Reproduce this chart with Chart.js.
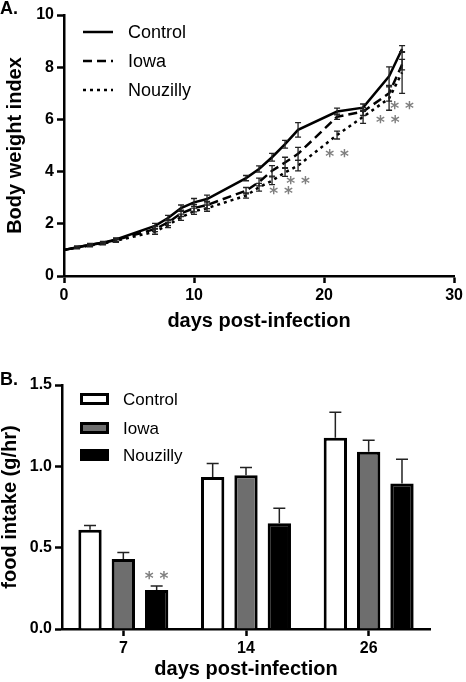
<!DOCTYPE html>
<html>
<head>
<meta charset="utf-8">
<script src="https://cdn.jsdelivr.net/npm/chart.js@4/dist/chart.umd.min.js"></script>
<style>
html,body{margin:0;padding:0;background:#fff;width:466px;height:682px;overflow:hidden;}
#ca{position:absolute;left:0;top:0;}
#cb{position:absolute;left:0;top:340px;}
</style>
</head>
<body>
<canvas id="ca" width="466" height="340"></canvas>
<canvas id="cb" width="466" height="342"></canvas>
<script>
// ---------- Panel A data: body weight index ----------
const daysA = [0, 1, 2, 3, 4, 7, 8, 9, 10, 11, 14, 15, 16, 17, 18, 21, 23, 25, 26];
const controlWeight    = [1.00, 1.10, 1.20, 1.28, 1.40, 1.92, 2.22, 2.60, 2.82, 2.95, 3.75, 4.10, 4.55, 5.05, 5.60, 6.30, 6.45, 7.65, 8.70];
const controlWeightErr = [0.00, 0.04, 0.05, 0.05, 0.06, 0.10, 0.10, 0.12, 0.15, 0.15, 0.10, 0.12, 0.15, 0.15, 0.28, 0.13, 0.14, 0.36, 0.13];
const iowaWeight       = [1.00, 1.10, 1.19, 1.27, 1.38, 1.80, 2.05, 2.40, 2.60, 2.72, 3.27, 3.60, 4.03, 4.35, 4.68, 6.10, 6.30, 7.00, 8.10];
const iowaWeightErr    = [0.00, 0.04, 0.05, 0.05, 0.06, 0.10, 0.12, 0.12, 0.14, 0.14, 0.12, 0.15, 0.20, 0.20, 0.25, 0.10, 0.15, 0.30, 0.20];
const nouzillyWeight   = [1.00, 1.08, 1.17, 1.24, 1.35, 1.70, 1.95, 2.25, 2.48, 2.60, 3.08, 3.40, 3.65, 3.97, 4.23, 5.40, 6.10, 6.80, 7.80];
const nouzillyWeightErr= [0.00, 0.04, 0.05, 0.05, 0.06, 0.10, 0.10, 0.12, 0.12, 0.12, 0.10, 0.15, 0.15, 0.15, 0.20, 0.15, 0.25, 0.45, 0.80];
const yTicksA = [0, 2, 4, 6, 8, 10];
const xTicksA = [0, 10, 20, 30];
// significance marks (day, value)
const starsA = [[16.7, 3.27], [18.0, 3.65], [21.0, 4.70], [24.9, 6.00], [26.0, 6.52]];

// ---------- Panel B data: food intake ----------
const daysB = ['7', '14', '26'];
const controlIntake     = [0.61, 0.935, 1.175];
const controlIntakeErr  = [0.027, 0.083, 0.157];
const iowaIntake        = [0.43, 0.945, 1.09];
const iowaIntakeErr     = [0.04, 0.048, 0.07];
const nouzillyIntake    = [0.24, 0.65, 0.895];
const nouzillyIntakeErr = [0.024, 0.092, 0.148];
const yTicksB = [0, 0.5, 1.0, 1.5];
const starsB = [[0, 2, 0.33]]; // [category index, dataset index, value]

const seriesNames = ['Control', 'Iowa', 'Nouzilly'];

Chart.defaults.font.family = "'Liberation Sans', Arial, Helvetica, sans-serif";
Chart.defaults.color = '#000';
Chart.defaults.animation = false;

const errorBarPlugin = {
  id: 'errorBars',
  afterDatasetsDraw(chart, args, opts) {
    const ctx = chart.ctx;
    const yScale = chart.scales.y;
    chart.data.datasets.forEach((ds, i) => {
      if (!ds.errorBars) return;
      const meta = chart.getDatasetMeta(i);
      ctx.save();
      ctx.strokeStyle = opts.color;
      ctx.lineWidth = opts.width;
      ctx.setLineDash([]);
      meta.data.forEach((el, j) => {
        const raw = ds.data[j];
        const v = (raw !== null && typeof raw === 'object') ? raw.y : raw;
        const e = ds.errorBars[j];
        if (!e) return;
        const x = el.x;
        const yT = yScale.getPixelForValue(v + e);
        const yB = opts.upOnly ? yScale.getPixelForValue(v) : yScale.getPixelForValue(v - e);
        ctx.beginPath();
        ctx.moveTo(x, yT); ctx.lineTo(x, yB);
        ctx.moveTo(x - opts.cap, yT); ctx.lineTo(x + opts.cap, yT);
        if (!opts.upOnly) { ctx.moveTo(x - opts.cap, yB); ctx.lineTo(x + opts.cap, yB); }
        ctx.stroke();
      });
      ctx.restore();
    });
  }
};

const decorPlugin = {
  id: 'decor',
  afterDraw(chart, args, opts) {
    const ctx = chart.ctx;
    ctx.save();
    // panel letter
    ctx.fillStyle = '#000';
    ctx.font = "bold 18px 'Liberation Sans', Arial, sans-serif";
    ctx.textBaseline = 'middle';
    ctx.textAlign = 'left';
    ctx.fillText(opts.panel.text, opts.panel.x, opts.panel.y);
    // significance stars
    ctx.fillStyle = '#808080';
    ctx.font = "bold 17px 'DejaVu Sans', sans-serif";
    ctx.textAlign = 'center';
    ctx.textBaseline = 'middle';
    (opts.stars || []).forEach(s => {
      let x;
      if (s.datasetIndex !== undefined) {
        x = chart.getDatasetMeta(s.datasetIndex).data[s.index].x;
      } else {
        x = chart.scales.x.getPixelForValue(s.x);
      }
      const y = chart.scales.y.getPixelForValue(s.y);
      ctx.fillText('* *', x, y + 4);
    });
    // legend
    const L = opts.legend;
    ctx.font = L.font;
    ctx.textAlign = 'left';
    ctx.textBaseline = 'middle';
    chart.data.datasets.forEach((ds, i) => {
      const y = L.ys[i];
      ctx.setLineDash([]);
      if (L.type === 'line') {
        ctx.strokeStyle = ds.borderColor;
        ctx.lineWidth = ds.borderWidth;
        ctx.setLineDash(ds.borderDash || []);
        ctx.beginPath();
        ctx.moveTo(L.x0, y); ctx.lineTo(L.x1, y);
        ctx.stroke();
      } else {
        ctx.fillStyle = ds.backgroundColor;
        ctx.strokeStyle = ds.borderColor;
        ctx.lineWidth = ds.borderWidth;
        const bw = L.x1 - L.x0, bh = L.h;
        const lw = ds.borderWidth;
        ctx.fillRect(L.x0 + lw / 2, y - bh / 2 + lw / 2, bw - lw, bh - lw);
        ctx.strokeRect(L.x0 + lw / 2, y - bh / 2 + lw / 2, bw - lw, bh - lw);
      }
      ctx.setLineDash([]);
      ctx.fillStyle = '#000';
      ctx.fillText(ds.label, L.tx, y + 1);
    });
    ctx.restore();
  }
};

const axisCommon = {
  grid: { display: true, drawOnChartArea: false, drawTicks: true, tickLength: 7, tickWidth: 2.5, color: '#000' },
  border: { display: true, width: 2.5, color: '#000' },
  ticks: { color: '#000', font: { size: 16, weight: 'bold' }, padding: 3 }
};

// ---------- Chart A ----------
new Chart(document.getElementById('ca'), {
  type: 'line',
  data: {
    datasets: [
      { label: seriesNames[0], data: daysA.map((d, i) => ({ x: d, y: controlWeight[i] })), errorBars: controlWeightErr,
        borderColor: '#000', backgroundColor: '#000', borderWidth: 2.5, pointRadius: 0, tension: 0, fill: false },
      { label: seriesNames[1], data: daysA.map((d, i) => ({ x: d, y: iowaWeight[i] })), errorBars: iowaWeightErr,
        borderColor: '#000', backgroundColor: '#000', borderWidth: 2.5, borderDash: [9, 5], pointRadius: 0, tension: 0, fill: false },
      { label: seriesNames[2], data: daysA.map((d, i) => ({ x: d, y: nouzillyWeight[i] })), errorBars: nouzillyWeightErr,
        borderColor: '#000', backgroundColor: '#000', borderWidth: 2.5, borderDash: [3, 4], pointRadius: 0, tension: 0, fill: false }
    ]
  },
  options: {
    responsive: false,
    devicePixelRatio: 1,
    layout: { padding: { left: 0, right: 9, top: 15, bottom: 0 } },
    plugins: {
      legend: { display: false },
      tooltip: { enabled: false },
      errorBars: { color: '#222', width: 1.3, cap: 3, upOnly: false },
      decor: {
        panel: { text: 'A.', x: 0, y: 9 },
        stars: starsA.map(s => ({ x: s[0], y: s[1] })),
        legend: { type: 'line', x0: 83, x1: 113, tx: 128, ys: [32, 61, 90], font: "18px 'Liberation Sans', Arial, sans-serif" }
      }
    },
    scales: {
      x: {
        type: 'linear', min: 0, max: 30,
        afterBuildTicks: s => { s.ticks = xTicksA.map(v => ({ value: v })); },
        afterFit: s => { s.height = 64; },
        grid: axisCommon.grid, border: axisCommon.border, ticks: axisCommon.ticks,
        title: { display: true, text: 'days post-infection', font: { size: 20, weight: 'bold' }, padding: { top: 0, bottom: 7 } }
      },
      y: {
        type: 'linear', min: 0, max: 10,
        afterBuildTicks: s => { s.ticks = yTicksA.map(v => ({ value: v })); },
        afterFit: s => { s.width = 64; },
        grid: axisCommon.grid, border: axisCommon.border, ticks: axisCommon.ticks,
        title: { display: true, text: 'Body weight index', font: { size: 20, weight: 'bold' }, padding: { top: 3, bottom: 0 } }
      }
    }
  },
  plugins: [errorBarPlugin, decorPlugin]
});

// ---------- Chart B ----------
new Chart(document.getElementById('cb'), {
  type: 'bar',
  data: {
    labels: daysB,
    datasets: [
      { label: seriesNames[0], data: controlIntake, errorBars: controlIntakeErr, backgroundColor: '#ffffff', borderColor: '#000', borderWidth: 3, borderSkipped: 'bottom' },
      { label: seriesNames[1], data: iowaIntake, errorBars: iowaIntakeErr, backgroundColor: '#6e6e6e', borderColor: '#000', borderWidth: 3, borderSkipped: 'bottom' },
      { label: seriesNames[2], data: nouzillyIntake, errorBars: nouzillyIntakeErr, backgroundColor: '#000000', borderColor: '#000', borderWidth: 3, borderSkipped: 'bottom' }
    ]
  },
  options: {
    responsive: false,
    devicePixelRatio: 1,
    categoryPercentage: 0.815,
    barPercentage: 0.70,
    layout: { padding: { left: 0, right: 36, top: 45, bottom: 0 } },
    plugins: {
      legend: { display: false },
      tooltip: { enabled: false },
      errorBars: { color: '#222', width: 1.5, cap: 6, upOnly: true },
      decor: {
        panel: { text: 'B.', x: 0, y: 40 },
        stars: starsB.map(s => ({ index: s[0], datasetIndex: s[1], y: s[2] })),
        legend: { type: 'box', x0: 80, x1: 109, h: 12, tx: 123, ys: [59, 88, 115], font: "17px 'Liberation Sans', Arial, sans-serif" }
      }
    },
    scales: {
      x: {
        type: 'category',
        offset: true,
        afterFit: s => { s.height = 53; },
        grid: Object.assign({}, axisCommon.grid, { offset: false }),
        border: axisCommon.border, ticks: axisCommon.ticks,
        title: { display: true, text: 'days post-infection', font: { size: 20, weight: 'bold' }, padding: { top: 0, bottom: 1 } }
      },
      y: {
        type: 'linear', min: 0, max: 1.5,
        afterBuildTicks: s => { s.ticks = yTicksB.map(v => ({ value: v })); },
        afterFit: s => { s.width = 62; },
        grid: axisCommon.grid, border: axisCommon.border,
        ticks: Object.assign({}, axisCommon.ticks, { callback: v => Number(v).toFixed(1) }),
        title: { display: true, text: 'food intake (g/hr)', font: { size: 20, weight: 'bold' }, padding: { top: -2, bottom: 0 } }
      }
    }
  },
  plugins: [errorBarPlugin, decorPlugin]
});
</script>
</body>
</html>
